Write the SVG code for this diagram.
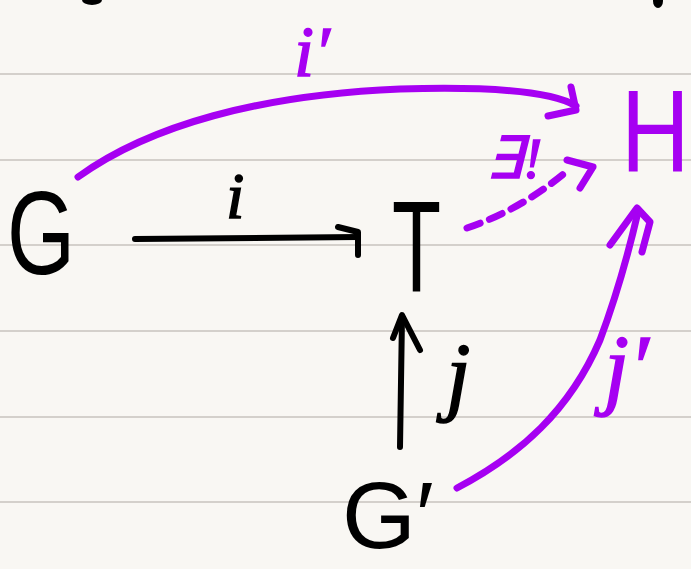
<svg xmlns="http://www.w3.org/2000/svg" width="691" height="569" viewBox="0 0 691 569">
<style>
.rule{stroke:#d4d0cb;stroke-width:2}
.blk{fill:none;stroke:#000;stroke-width:6;stroke-linecap:round;stroke-linejoin:round}
.pur{fill:none;stroke:#a600f2;stroke-width:7;stroke-linecap:round;stroke-linejoin:round}
.node{font-family:"Liberation Sans",Arial,sans-serif;fill:#000}
.lab{font-family:"Liberation Serif","Times New Roman",serif;font-style:italic}
.lk{fill:#000;stroke:#000;stroke-width:1.5}
.lp{fill:#a600f2;stroke:#a600f2;stroke-width:1.5}
</style>
<rect width="691" height="569" fill="#f9f7f3"/>
<g id="paper">
<line class="rule" x1="0" y1="74" x2="691" y2="74"/>
<line class="rule" x1="0" y1="160" x2="691" y2="160"/>
<line class="rule" x1="0" y1="245" x2="691" y2="245"/>
<line class="rule" x1="0" y1="331" x2="691" y2="331"/>
<line class="rule" x1="0" y1="417" x2="691" y2="417"/>
<line class="rule" x1="0" y1="502" x2="691" y2="502"/>
<ellipse cx="92" cy="0" rx="10" ry="5" fill="#000"/>
<ellipse cx="658" cy="1" rx="5" ry="7" fill="#000"/>
</g>
<g id="connectors">
<g id="edge-i">
<path class="blk" d="M135 239 L358 237"/>
<path class="blk" d="M338 227 L358 232 L358 255"/>
<text class="lab lk" x="226" y="218" font-size="66">i</text>
</g>
<g id="edge-j">
<path class="blk" d="M400 447 L402 317"/>
<path class="blk" d="M393 338 L402 315 L420 350"/>
<text class="lab lk" x="446" y="404" font-size="88">j</text>
</g>
<g id="edge-i-prime">
<path class="pur" d="M78 177 C150 125 260 95 400 89 C500 86 555 93 576 106"/>
<path class="pur" d="M571 87 L576 110 L548 116"/>
<text class="lab lp" x="294" y="76" font-size="72">i′</text>
</g>
<g id="edge-unique">
<path class="pur" d="M467 228 Q520 210 566 172" stroke-dasharray="14 10" stroke-width="6"/>
<path class="pur" d="M567 160 L593 167 L580 188" stroke-width="6"/>
<text class="lab lp" x="486" y="178" font-size="58">∃!</text>
</g>
<g id="edge-j-prime">
<path class="pur" d="M457 488 C520 455 570 410 600 340 C615 300 628 255 638 212"/>
<path class="pur" d="M610 245 L637 208 L650 222 L642 252"/>
<text class="lab lp" x="604" y="398" font-size="90">j′</text>
</g>
</g>
<g id="node-G"><text class="node" x="7" y="274" font-size="118" textLength="68" lengthAdjust="spacingAndGlyphs">G</text></g>
<g id="node-T"><text class="node" x="392" y="292" font-size="130" textLength="49" lengthAdjust="spacingAndGlyphs">T</text></g>
<g id="node-H"><text class="node" transform="translate(621 171) scale(0.82 1)" x="0" y="0" font-size="116" style="fill:#a600f2">H</text></g>
<g id="node-Gp"><text class="node" x="342" y="548" font-size="95">G′</text></g>
</svg>
